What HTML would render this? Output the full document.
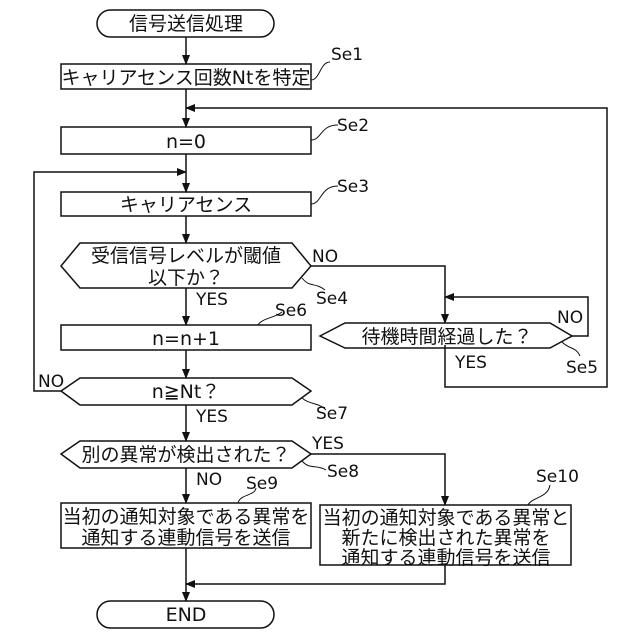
<!DOCTYPE html>
<html><head><meta charset="utf-8"><style>
html,body{margin:0;padding:0;background:#fff;}
svg{display:block;}
text{font-family:"DejaVu Sans","Liberation Sans","Noto Sans CJK JP",sans-serif;font-size:17px;fill:#111;}
.j{font-size:19px;}
</style></head><body>
<svg width="640" height="640" viewBox="0 0 640 640" xmlns="http://www.w3.org/2000/svg">
<defs><marker id="a" markerWidth="10" markerHeight="10" refX="9" refY="5" orient="auto" markerUnits="userSpaceOnUse"><path d="M0,1 L10,5 L0,9 Z" fill="#111"/></marker></defs>
<g fill="none" stroke="#111" stroke-width="1.5">
<rect x="97" y="10" width="177" height="27" rx="13.5"/>
<rect x="61" y="64" width="250" height="25"/>
<rect x="61" y="127" width="250" height="27"/>
<rect x="61" y="192" width="250" height="24"/>
<polygon points="61,266 80,243 292,243 311,266 292,288 80,288"/>
<rect x="61" y="325" width="250" height="25"/>
<polygon points="320,336 345,323 550,323 572,336 550,348 345,348"/>
<polygon points="61,391 80,378 292,378 311,391 292,405 80,405"/>
<polygon points="61,454 80,441 292,441 311,454 292,468 80,468"/>
<rect x="61" y="503" width="250" height="45"/>
<rect x="320" y="505" width="251" height="60"/>
<rect x="97" y="601" width="177" height="27" rx="13.5"/>
<line x1="186" y1="37" x2="186" y2="64" marker-end="url(#a)"/>
<line x1="186" y1="89" x2="186" y2="127" marker-end="url(#a)"/>
<polyline points="445,345 445,387 607,387 607,108 186,108" marker-end="url(#a)"/>
<line x1="186" y1="154" x2="186" y2="192" marker-end="url(#a)"/>
<polyline points="61,391 34,391 34,172 186,172" marker-end="url(#a)"/>
<line x1="186" y1="216" x2="186" y2="243" marker-end="url(#a)"/>
<polyline points="311,266 445,266 445,323" marker-end="url(#a)"/>
<line x1="186" y1="288" x2="186" y2="325" marker-end="url(#a)"/>
<polyline points="572,336 588,336 588,297 445,297" marker-end="url(#a)"/>
<line x1="186" y1="350" x2="186" y2="378" marker-end="url(#a)"/>
<line x1="186" y1="405" x2="186" y2="441" marker-end="url(#a)"/>
<polyline points="311,454 445,454 445,505" marker-end="url(#a)"/>
<line x1="186" y1="468" x2="186" y2="503" marker-end="url(#a)"/>
<line x1="186" y1="548" x2="186" y2="601" marker-end="url(#a)"/>
<polyline points="445,565 445,584 186,584" marker-end="url(#a)"/>
<path d="M311,80 C320,80 320,62 330,62" stroke-width="1"/>
<path d="M311,140 C322,140 320,125 338,125" stroke-width="1"/>
<path d="M311,204 C322,204 320,186 338,186" stroke-width="1"/>
<path d="M302,278 C310,288 315,282 325,290" stroke-width="1"/>
<path d="M258,325 C262,318 275,318 282,312" stroke-width="1"/>
<path d="M562,342 C570,350 575,346 580,356" stroke-width="1"/>
<path d="M302,398 C310,405 318,402 326,410" stroke-width="1"/>
<path d="M302,461 C310,470 316,464 326,470" stroke-width="1"/>
<path d="M238,503 C240,494 255,496 256,488" stroke-width="1"/>
<path d="M528,505 C532,497 548,498 550,485" stroke-width="1"/>
</g>
<g text-anchor="middle" class="j">
<text class="j" x="186" y="30">信号送信処理</text>
<text class="j" x="186" y="84">キャリアセンス回数Ntを特定</text>
<text class="j" x="186" y="148">n=0</text>
<text class="j" x="186" y="211">キャリアセンス</text>
<text class="j" x="186" y="262">受信信号レベルが閾値</text>
<text class="j" x="186" y="284">以下か？</text>
<text class="j" x="186" y="345">n=n+1</text>
<text class="j" x="447" y="343">待機時間経過した？</text>
<text class="j" x="186" y="398">n≧Nt？</text>
<text class="j" x="186" y="461">別の異常が検出された？</text>
<text class="j" x="186" y="523">当初の通知対象である異常を</text>
<text class="j" x="186" y="544">通知する連動信号を送信</text>
<text class="j" x="446" y="524">当初の通知対象である異常と</text>
<text class="j" x="446" y="544">新たに検出された異常を</text>
<text class="j" x="446" y="564">通知する連動信号を送信</text>
<text class="j" x="186" y="621">END</text>
</g>
<text x="331" y="60">Se1</text>
<text x="337" y="131">Se2</text>
<text x="337" y="192">Se3</text>
<text x="316" y="304">Se4</text>
<text x="275" y="316">Se6</text>
<text x="566" y="373">Se5</text>
<text x="316" y="419">Se7</text>
<text x="327" y="477">Se8</text>
<text x="246" y="489">Se9</text>
<text x="536" y="482">Se10</text>
<text x="312" y="262">NO</text>
<text x="196" y="305">YES</text>
<text x="557" y="323">NO</text>
<text x="455" y="368">YES</text>
<text x="38" y="387">NO</text>
<text x="196" y="422">YES</text>
<text x="312" y="449">YES</text>
<text x="196" y="485">NO</text>
</svg>
</body></html>
